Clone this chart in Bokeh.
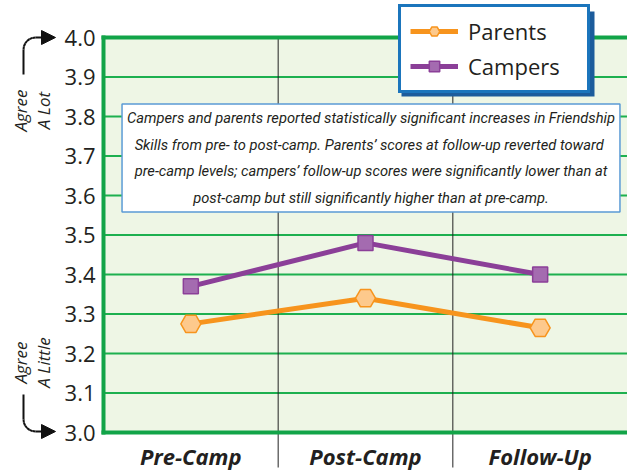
import numpy as np
from bokeh.plotting import figure
from bokeh.models import (FixedTicker, LinearAxis, Range1d, Legend, LegendItem, Label,
                          Arrow, NormalHead, BoxAnnotation, PrintfTickFormatter,
                          ColumnDataSource)
from bokeh.embed import file_html
from bokeh.resources import INLINE

# ---- data ----
phases = ["Pre-Camp", "Post-Camp", "Follow-Up"]
parents = [3.275, 3.34, 3.265]
campers = [3.37, 3.48, 3.40]
y_ticks = [3.0, 3.1, 3.2, 3.3, 3.4, 3.5, 3.6, 3.7, 3.8, 3.9, 4.0]
note = ("Campers and parents reported statistically significant increases in Friendship\n"
        "Skills from pre- to post-camp.  Parents\u2019 scores at follow-up reverted toward\n"
        "pre-camp levels; campers\u2019 follow-up scores were significantly lower than at\n"
        "post-camp but still significantly higher than at pre-camp.")

# each phase occupies one unit band; marks sit in the middle of their band
centers = [i + 0.5 for i in range(len(phases))]
bounds = [float(i) for i in range(1, len(phases))]

GREEN = "#1db04f"
FRAME_GREEN = "#12a448"
TEXT = "#231f20"

W, H = 627, 471
PL, PT, PB = 103, 37, 432  # plot-area left / top / bottom in page pixels
Y0, Y1 = 3.0, 4.0
X1 = len(phases)
px_x = (W - PL) / X1
px_y = (PB - PT) / (Y1 - Y0)


def dx(px):
    """Page pixel column -> x data value."""
    return (px - PL) / px_x


def dy(py):
    """Page pixel row -> y data value."""
    return Y1 - (py - PT) / px_y


# the frame fills the page; axes are pinned inside it at the plot-area edges
p = figure(width=W, height=H, x_range=Range1d(dx(0), dx(W)), y_range=Range1d(dy(H), dy(0)),
           x_axis_type=None, y_axis_type=None, output_backend="svg", toolbar_location=None,
           min_border=0)
p.outline_line_color = None
p.background_fill_color = "white"
p.border_fill_color = "white"

# plot-area tint
p.add_layout(BoxAnnotation(left=0, right=X1, bottom=Y0, top=Y1, fill_color="#eef6e5",
                           fill_alpha=1, line_color=None, level="underlay"))

# horizontal grid lines at the y ticks
p.segment(x0=[0] * len(y_ticks), x1=[X1] * len(y_ticks), y0=y_ticks, y1=y_ticks,
          line_color=GREEN, line_width=2)
# band separators, running on below the plot area between the phase labels
p.segment(x0=bounds, x1=bounds, y0=[dy(467)] * len(bounds), y1=[Y1] * len(bounds),
          line_color="#222222", line_width=1)
# top edge
p.segment(x0=[dx(101)], x1=[X1], y0=[Y1], y1=[Y1], line_color=FRAME_GREEN, line_width=4)

# y axis
yt = FixedTicker(ticks=y_ticks)
yax = LinearAxis(ticker=yt, formatter=PrintfTickFormatter(format="%.1f"),
                 fixed_location=0, bounds=(dy(434), dy(35)))
yax.axis_line_color = FRAME_GREEN
yax.axis_line_width = 4
yax.major_tick_line_color = None
yax.minor_tick_line_color = None
yax.major_tick_out = 0
yax.minor_tick_out = 0
yax.major_label_standoff = 8
yax.major_label_text_font = "Open Sans"
yax.major_label_text_font_size = "22px"
yax.major_label_text_color = TEXT
p.add_layout(yax, "left")

# x axis: labels at band centres
xt = FixedTicker(ticks=centers)
xax = LinearAxis(ticker=xt, fixed_location=Y0, bounds=(dx(101), X1))
xax.major_label_overrides = {c: name for c, name in zip(centers, phases)}
xax.axis_line_color = FRAME_GREEN
xax.axis_line_width = 4
xax.major_tick_line_color = None
xax.minor_tick_line_color = None
xax.major_tick_out = 0
xax.minor_tick_out = 0
xax.major_label_standoff = 8
xax.major_label_text_font = "Open Sans"
xax.major_label_text_font_style = "bold italic"
xax.major_label_text_font_size = "22px"
xax.major_label_text_color = TEXT
p.add_layout(xax, "below")

# series
src = ColumnDataSource(dict(x=centers, parents=parents, campers=campers))
lp = p.line("x", "parents", source=src, line_color="#f7941d", line_width=5)
sp = p.scatter("x", "parents", source=src, marker="hex", size=20,
               fill_color="#fdc98c", line_color="#f7941d", line_width=1.5)
lc = p.line("x", "campers", source=src, line_color="#8b3f98", line_width=5)
sc = p.scatter("x", "campers", source=src, marker="square", size=15,
               fill_color="#a46bb0", line_color="#8b3f98", line_width=1.5)

# note box
p.add_layout(Label(x=dx(370.5), y=dy(157.5),
                   text=note, text_align="center", text_baseline="middle",
                   text_font="Roboto", text_font_style="italic",
                   text_font_size="14.7px", text_color=TEXT, text_line_height=1.48,
                   background_fill_color="white", border_line_color="#5b9bd5",
                   border_line_width=1.5, padding=5))

# legend with drop shadow
p.add_layout(BoxAnnotation(left=dx(401), right=dx(594), top=dy(11), bottom=dy(96),
                           fill_color="#1c5c9c", fill_alpha=1, line_color=None))
legend = Legend(items=[LegendItem(label="Parents", renderers=[lp, sp]),
                       LegendItem(label="Campers", renderers=[lc, sc])],
                location=(398, H - 93))
legend.border_line_color = "#1b75bc"
legend.border_line_width = 3
legend.border_line_alpha = 1
legend.background_fill_color = "white"
legend.background_fill_alpha = 1
legend.label_text_font = "Open Sans"
legend.label_text_font_size = "22px"
legend.label_text_color = TEXT
legend.glyph_width = 48
legend.glyph_height = 26
legend.label_height = 26
legend.label_width = 110
legend.label_standoff = 10
legend.spacing = 5
legend.padding = 9
legend.margin = 0
p.add_layout(legend)


def path(points):
    """Draw a polyline given in page pixels as chained segments, with a head on the last one."""
    for i in range(len(points) - 1):
        (x0, y0), (x1, y1) = points[i], points[i + 1]
        last = i == len(points) - 2
        p.add_layout(Arrow(x_start=dx(x0), y_start=dy(y0), x_end=dx(x1), y_end=dy(y1),
                           line_color="#111111", line_width=2,
                           end=NormalHead(size=14, fill_color="#111111", line_color="#111111")
                           if last else None))


def bend(x0, y_line, y_end, r, up):
    ang = np.linspace(np.pi, np.pi / 2, 7)
    sgn = -1 if up else 1
    cy = y_end - sgn * r
    arc = [(x0 + r + r * np.cos(a), cy + sgn * r * np.sin(a)) for a in ang]
    return [(x0, y_line)] + arc + [(55, y_end)]


path(bend(23, 74, PT, 12, True))
path(bend(23, 394, PB - 1, 12, False))

for txt, cy in (("Agree\nA Lot", 110), ("Agree\nA Little", 362)):
    p.add_layout(Label(x=dx(31), y=dy(cy),
                       text=txt, angle=90, angle_units="deg",
                       text_align="center", text_baseline="middle",
                       text_font="Open Sans", text_font_style="italic", text_font_size="17px",
                       text_color=TEXT, text_line_height=1.0))

open("out.html", "w").write(file_html(p, INLINE))
